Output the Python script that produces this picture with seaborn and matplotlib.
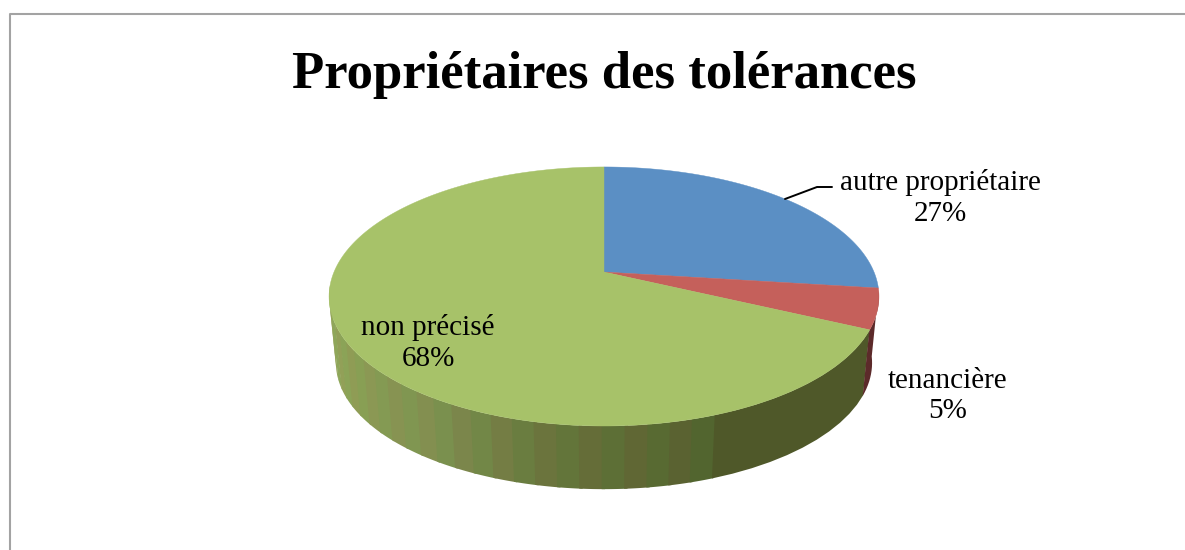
import matplotlib
matplotlib.use('Agg')
import matplotlib.pyplot as plt
import numpy as np
import seaborn as sns

# Data
labels = ['autre propriétaire', 'tenancière', 'non précisé']
shares = [27, 5, 68]
title = 'Propriétaires des tolérances'

top_colors = ['#5B8FC4', '#C5605B', '#A7C269']
red_side = '#5C2A2A'
green_side_dark = '#4F5829'
green_side_ramp = ['#55622F', '#66733A', '#7F9050', '#8C9E55', '#95AA5E']

sns.set_theme(style='white')
plt.rcParams['font.family'] = ['Liberation Serif', 'DejaVu Serif']

fig, ax = plt.subplots(figsize=(11.85, 5.5), dpi=100)
ax.set_position([0, 0, 1, 1])
ax.set_xlim(0, 1185)
ax.set_ylim(550, 0)
ax.axis('off')


# perspective view of the disc, angle is clockwise from the top
def top_edge(deg, scale=1.0, apex_y=272):
    t = np.radians(deg)
    u, v = np.sin(t), np.cos(t)
    w = 1 + 0.189 * v
    return 604 + scale * 270 * u / w, apex_y - scale * 124.9 * v / w


def bottom_edge(deg):
    return top_edge(deg, scale=0.975, apex_y=339)


# Chart frame, runs off the right and bottom of the picture
ax.plot([10, 10, 1185], [550, 14, 14], color='#A3A3A3', lw=1.5)

bounds = np.cumsum([0] + shares) * 3.6

# Side wall, only the part that faces the viewer
def wall(start, end, color):
    deg = np.linspace(start, end, 12)
    x1, y1 = top_edge(deg)
    x2, y2 = bottom_edge(deg)
    ax.fill(np.r_[x1, x2[::-1]], np.r_[y1, y2[::-1]], color=color, lw=0)


# banded shading on the green wall, left side first so the overlaps stay hidden
n_bands = 26
edges = np.linspace(160, 263, n_bands + 1)
ramp = sns.blend_palette(green_side_ramp, n_bands)
for i in range(n_bands - 1, -1, -1):
    r, g, b = ramp[i]
    shift = 0.01 if i % 2 else -0.01
    wall(edges[i], edges[i + 1] + 0.6, (r + shift, g - shift, b))

wall(bounds[2], 160.3, green_side_dark)
wall(98, bounds[2] + 0.3, red_side)

# Top of the pie
for i in range(len(shares)):
    deg = np.linspace(bounds[i], bounds[i + 1], 200)
    x, y = top_edge(deg)
    ax.fill(np.r_[604, x], np.r_[272, y], color=top_colors[i], lw=0.3)

# Text
ax.text(604, 75, title, ha='center', va='center', fontsize=38, fontweight='bold', color='black')


def pct_label(i, x, y):
    ax.text(x, y, f'{labels[i]}\n{shares[i]}%', ha='center', va='center',
            fontsize=21, color='black', linespacing=1.25)


pct_label(0, 940, 198)
pct_label(1, 948, 396)
pct_label(2, 428, 343)

ax.plot([785, 817, 832], [199, 187, 187], color='black', lw=1.4)

fig.savefig('out.png', dpi=100)
